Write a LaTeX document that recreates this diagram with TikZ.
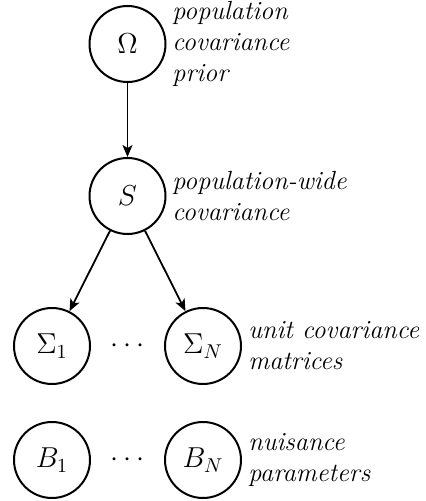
\documentclass[tikz,border=0pt]{standalone}
\usetikzlibrary{arrows.meta}
\tikzset{
  var/.style={circle, draw, line width=1pt, minimum size=38pt, inner sep=0pt, font=\fontsize{14}{16}\selectfont},
  lbl/.style={anchor=west, align=left, inner sep=0pt, font=\fontsize{13.1}{15.5}\selectfont\itshape},
  dotsstyle/.style={inner sep=0pt, font=\fontsize{14}{16}\selectfont},
  edge/.style={line width=0.9pt, -{Stealth[length=6pt, width=5pt, inset=1.5pt]}},
}
\begin{document}
\begin{tikzpicture}[x=0.5pt, y=-0.5pt]
\useasboundingbox (0,0) rectangle (425,501);
\node[var] (omega) at (127.5,44) {$\Omega$};
\node[var] (S) at (127.5,196) {$S$};
\node[var] (sig1) at (52,346) {$\Sigma_1$};
\node[var] (sigN) at (203,346) {$\Sigma_N$};
\node[var] (b1) at (52,460) {$B_1$};
\node[var] (bN) at (203,460) {$B_N$};
\node[dotsstyle] (dots1) at (127.5,346) {$\cdots$};
\node[dotsstyle] (dots2) at (127.5,460) {$\cdots$};
\node[lbl] (l1) at (172,44) {population\\covariance\\prior};
\node[lbl] (l2) at (172,196) {population-wide\\covariance};
\node[lbl] (l3) at (248,346) {unit covariance\\matrices};
\node[lbl] (l4) at (248,460) {nuisance\\parameters};
\draw[edge] (omega) -- (S);
\draw[edge] (S) -- (sig1);
\draw[edge] (S) -- (sigN);
\end{tikzpicture}
\end{document}
